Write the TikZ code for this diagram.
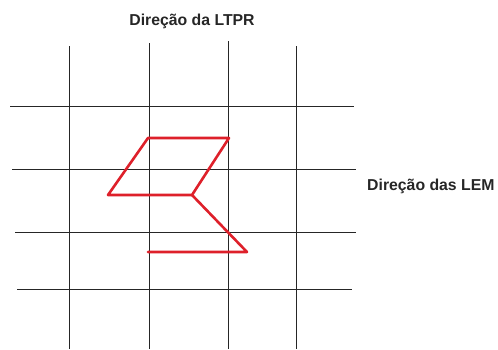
\documentclass[tikz,border=0pt]{standalone}
\usepackage{fontspec}
\setmainfont{Liberation Sans}
\usepackage{tikz}
\usetikzlibrary{calc,positioning}

\definecolor{trajred}{RGB}{222,32,42}
\tikzset{
  gridline/.style={draw=black!85, line width=0.8pt},
  traj/.style={draw=trajred, line width=2.6pt, line join=round, line cap=round},
  lbl/.style={font=\fontsize{15.8}{18}\selectfont\bfseries, text=black!85, inner sep=0pt}
}

\begin{document}
\begin{tikzpicture}[x=1pt,y=-1pt]
\useasboundingbox (0,0) rectangle (498,349);
% vertical lines
\draw[gridline] (69,46) -- (69,349);
\draw[gridline] (149,43) -- (149,349);
\draw[gridline] (228,41) -- (228,349);
\draw[gridline] (296,46) -- (296,349);
% horizontal lines
\draw[gridline] (10,106) -- (354,106);
\draw[gridline] (12,169) -- (356,169);
\draw[gridline] (15,232) -- (356,232);
\draw[gridline] (17,289) -- (352,289);

% red path
\coordinate (p1) at (148,138);
\coordinate (p2) at (229,138);
\coordinate (p3) at (192,195);
\coordinate (p4) at (108,195);
\coordinate (p5) at (247,252);
\coordinate (p6) at (148,252);
\draw[traj] (p1) -- (p2) -- (p3) -- (p4) -- cycle;
\draw[traj] (p3) -- (p5) -- (p6);

\node[lbl, anchor=base] (ltpr) at (192,25) {Direção da LTPR};
\node[lbl, anchor=base west] (lem) at (367,190) {Direção das LEM};
\end{tikzpicture}
\end{document}
